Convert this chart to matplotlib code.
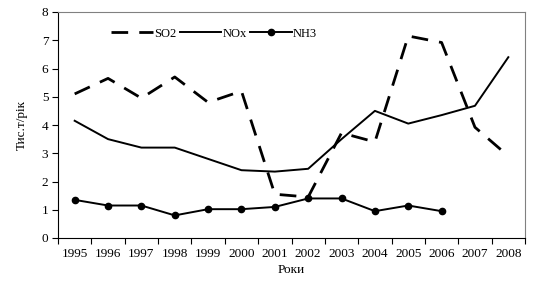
import matplotlib
matplotlib.use("Agg")
import matplotlib.pyplot as plt
import numpy as np

years = ["1995", "1996", "1997", "1998", "1999", "2000", "2001",
         "2002", "2003", "2004", "2005", "2006", "2007", "2008"]
so2 = [5.1, 5.65, 4.95, 5.7, 4.8, 5.2, 1.55, 1.45, 3.72, 3.4, 7.15, 6.92, 3.92, 2.9]
nox = [4.15, 3.5, 3.2, 3.2, 2.8, 2.4, 2.35, 2.45, 3.5, 4.5, 4.05, 4.35, 4.68, 6.4]
nh3 = [1.35, 1.15, 1.15, 0.8, 1.02, 1.02, 1.1, 1.4, 1.4, 0.95, 1.15, 0.95]

plt.rcParams['font.family'] = ['Liberation Serif', 'DejaVu Serif']

fig = plt.figure(figsize=(5.37, 2.82), dpi=100)
ax = fig.add_axes([58/537, 44/282, 467/537, 226/282])

x = np.arange(len(years)) + 0.5
ax.plot(x, so2, color='black', lw=2.0, dashes=(6, 4), label='SO2')
ax.plot(x, nox, color='black', lw=1.4, label='NOx')
ax.plot(x[:len(nh3)], nh3, color='black', lw=1.4, marker='o', ms=4.5, label='NH3')

ax.set_xlim(0, 14)
ax.set_ylim(0, 8)
ax.set_yticks(range(0, 9))
ax.set_xticks(range(0, 15))
ax.set_xticklabels([])
ax.set_xticks(x, minor=True)
ax.set_xticklabels(years, minor=True)
ax.tick_params(axis='x', which='minor', length=0, pad=7, labelsize=9.5)
ax.tick_params(axis='x', which='major', length=4, direction='out', color='black')
ax.tick_params(axis='y', length=4, direction='out', labelsize=9.5, pad=3)

for s in ['top', 'right']:
    ax.spines[s].set_color('#808080')
for s in ['left', 'bottom']:
    ax.spines[s].set_color('black')

ax.set_ylabel('Тис.т/рік', fontsize=9.5, labelpad=10)
ax.set_xlabel('Роки', fontsize=9.5, labelpad=3)

leg = ax.legend(loc='upper left', bbox_to_anchor=(0.09, 0.98), ncol=3, frameon=False,
                handlelength=3.3, handletextpad=0.1, columnspacing=0.3, fontsize=9)

fig.savefig('out.png', dpi=100)
